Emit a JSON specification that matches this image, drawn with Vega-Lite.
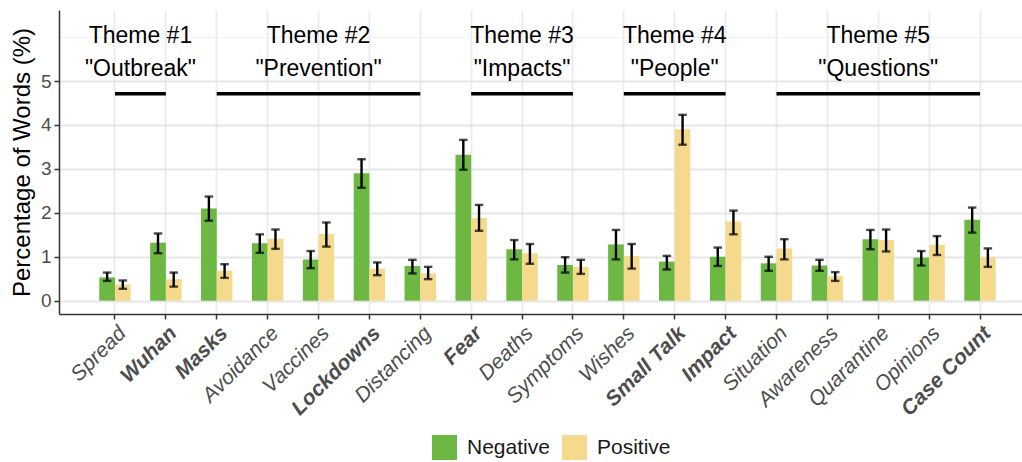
{
  "$schema": "https://vega.github.io/schema/vega-lite/v6.json",
  "width": 963,
  "height": 304,
  "autosize": {"type": "none"},
  "padding": {"left": 59, "top": 10, "right": 0, "bottom": 148},
  "config": {"view": {"stroke": null}, "font": "Liberation Sans"},
  "datasets": {
    "bars": [
      {"word": "Spread", "sentiment": "Negative", "pct": 0.53, "lo": 0.45, "hi": 0.64},
      {"word": "Spread", "sentiment": "Positive", "pct": 0.37, "lo": 0.27, "hi": 0.46},
      {"word": "Wuhan", "sentiment": "Negative", "pct": 1.32, "lo": 1.08, "hi": 1.53},
      {"word": "Wuhan", "sentiment": "Positive", "pct": 0.49, "lo": 0.32, "hi": 0.64},
      {"word": "Masks", "sentiment": "Negative", "pct": 2.1, "lo": 1.82, "hi": 2.37},
      {"word": "Masks", "sentiment": "Positive", "pct": 0.68, "lo": 0.52, "hi": 0.83},
      {"word": "Avoidance", "sentiment": "Negative", "pct": 1.31, "lo": 1.09, "hi": 1.51},
      {"word": "Avoidance", "sentiment": "Positive", "pct": 1.41, "lo": 1.18, "hi": 1.62},
      {"word": "Vaccines", "sentiment": "Negative", "pct": 0.94, "lo": 0.74, "hi": 1.13},
      {"word": "Vaccines", "sentiment": "Positive", "pct": 1.52, "lo": 1.23, "hi": 1.78},
      {"word": "Lockdowns", "sentiment": "Negative", "pct": 2.9, "lo": 2.57, "hi": 3.22},
      {"word": "Lockdowns", "sentiment": "Positive", "pct": 0.73, "lo": 0.58, "hi": 0.87},
      {"word": "Distancing", "sentiment": "Negative", "pct": 0.79, "lo": 0.62, "hi": 0.93},
      {"word": "Distancing", "sentiment": "Positive", "pct": 0.62, "lo": 0.49, "hi": 0.77},
      {"word": "Fear", "sentiment": "Negative", "pct": 3.32, "lo": 2.98, "hi": 3.66},
      {"word": "Fear", "sentiment": "Positive", "pct": 1.88, "lo": 1.59, "hi": 2.18},
      {"word": "Deaths", "sentiment": "Negative", "pct": 1.17, "lo": 0.94, "hi": 1.38},
      {"word": "Deaths", "sentiment": "Positive", "pct": 1.08, "lo": 0.84, "hi": 1.29},
      {"word": "Symptoms", "sentiment": "Negative", "pct": 0.81, "lo": 0.64, "hi": 0.99},
      {"word": "Symptoms", "sentiment": "Positive", "pct": 0.77, "lo": 0.61, "hi": 0.93},
      {"word": "Wishes", "sentiment": "Negative", "pct": 1.28, "lo": 0.94, "hi": 1.61},
      {"word": "Wishes", "sentiment": "Positive", "pct": 1.02, "lo": 0.73, "hi": 1.29},
      {"word": "Small Talk", "sentiment": "Negative", "pct": 0.89, "lo": 0.71, "hi": 1.02},
      {"word": "Small Talk", "sentiment": "Positive", "pct": 3.9, "lo": 3.55, "hi": 4.23},
      {"word": "Impact", "sentiment": "Negative", "pct": 1.0, "lo": 0.79, "hi": 1.21},
      {"word": "Impact", "sentiment": "Positive", "pct": 1.8, "lo": 1.51, "hi": 2.05},
      {"word": "Situation", "sentiment": "Negative", "pct": 0.85, "lo": 0.68, "hi": 1.0},
      {"word": "Situation", "sentiment": "Positive", "pct": 1.19, "lo": 0.94, "hi": 1.4},
      {"word": "Awareness", "sentiment": "Negative", "pct": 0.8, "lo": 0.68, "hi": 0.93},
      {"word": "Awareness", "sentiment": "Positive", "pct": 0.56, "lo": 0.45, "hi": 0.65},
      {"word": "Quarantine", "sentiment": "Negative", "pct": 1.4, "lo": 1.17, "hi": 1.61},
      {"word": "Quarantine", "sentiment": "Positive", "pct": 1.38, "lo": 1.12, "hi": 1.62},
      {"word": "Opinions", "sentiment": "Negative", "pct": 0.98, "lo": 0.8, "hi": 1.13},
      {"word": "Opinions", "sentiment": "Positive", "pct": 1.27, "lo": 1.04, "hi": 1.47},
      {"word": "Case Count", "sentiment": "Negative", "pct": 1.84, "lo": 1.55, "hi": 2.12},
      {"word": "Case Count", "sentiment": "Positive", "pct": 0.99, "lo": 0.77, "hi": 1.19}
    ],
    "themes": [
      {"theme": 1, "start": "Spread", "end": "Wuhan", "mid": "Spread", "label": ["Theme #1", "\"Outbreak\""]},
      {"theme": 2, "start": "Masks", "end": "Distancing", "mid": "Vaccines", "label": ["Theme #2", "\"Prevention\""]},
      {"theme": 3, "start": "Fear", "end": "Symptoms", "mid": "Deaths", "label": ["Theme #3", "\"Impacts\""]},
      {"theme": 4, "start": "Wishes", "end": "Impact", "mid": "Small Talk", "label": ["Theme #4", "\"People\""]},
      {"theme": 5, "start": "Situation", "end": "Case Count", "mid": "Quarantine", "label": ["Theme #5", "\"Questions\""]}
    ]
  },
  "layer": [
    {
      "data": {"name": "bars"},
      "mark": {"type": "bar"},
      "encoding": {
        "x": {
          "field": "word", "type": "nominal",
          "scale": {
            "domain": ["Spread", "Wuhan", "Masks", "Avoidance", "Vaccines", "Lockdowns", "Distancing", "Fear", "Deaths", "Symptoms", "Wishes", "Small Talk", "Impact", "Situation", "Awareness", "Quarantine", "Opinions", "Case Count"],
            "range": [0, 977], "paddingInner": 0, "paddingOuter": 0.6
          },
          "axis": {
            "title": null, "orient": "bottom",
            "labelAngle": -45, "labelFontSize": 21, "labelFontStyle": "italic",
            "labelFontWeight": {"condition": {"test": "indexof(['Wuhan','Masks','Lockdowns','Fear','Small Talk','Impact','Case Count'], datum.value) >= 0", "value": "bold"}, "value": "normal"},
            "labelColor": "#4d4d4d", "labelPadding": 3,
            "tickColor": "#333333", "tickSize": 5, "tickWidth": 1.5,
            "domainColor": "#333333", "domainWidth": 1.5,
            "grid": true, "gridColor": "#ebebeb", "gridWidth": 1.8, "bandPosition": 0.5
          }
        },
        "xOffset": {"field": "sentiment", "type": "nominal", "scale": {"paddingOuter": 0.62, "paddingInner": 0}},
        "y": {
          "field": "pct", "type": "quantitative",
          "scale": {"domain": [-0.303, 6.616], "nice": false, "zero": false},
          "axis": {
            "title": "Percentage of Words (%)", "titleFontSize": 24, "titleFontWeight": "normal", "titleColor": "#000000", "titlePadding": 6,
            "values": [0, 0.5, 1, 1.5, 2, 2.5, 3, 3.5, 4, 4.5, 5, 5.5, 6],
            "labelExpr": "(datum.value % 1 == 0 && datum.value <= 5) ? datum.label : ''",
            "labelFontSize": 19, "labelColor": "#4d4d4d", "labelPadding": 3,
            "tickColor": "#333333", "tickSize": 5, "tickWidth": 1.5,
            "tickOpacity": {"condition": {"test": "datum.value % 1 == 0 && datum.value <= 5", "value": 1}, "value": 0},
            "domainColor": "#333333", "domainWidth": 1.5,
            "grid": true,
            "gridColor": {"condition": {"test": "datum.value % 1 == 0 && datum.value <= 5", "value": "#e6e6e6"}, "value": "#f1f1f1"},
            "gridWidth": {"condition": {"test": "datum.value % 1 == 0 && datum.value <= 5", "value": 1.8}, "value": 1.2}
          }
        },
        "y2": {"datum": 0},
        "color": {
          "field": "sentiment", "type": "nominal",
          "scale": {"domain": ["Negative", "Positive"], "range": ["#6cb843", "#f5da8e"]},
          "legend": {
            "title": null, "orient": "none", "legendX": 373, "legendY": 425, "direction": "horizontal",
            "symbolType": "square", "symbolSize": 625, "symbolStrokeWidth": 0, "symbolOpacity": 1,
            "labelFontSize": 21, "labelColor": "#1a1a1a", "labelOffset": 10, "columnPadding": 12, "padding": 0
          }
        }
      }
    },
    {
      "data": {"name": "bars"},
      "mark": {"type": "rule", "color": "#000000", "strokeWidth": 2.4},
      "encoding": {
        "x": {"field": "word", "type": "nominal"},
        "xOffset": {"field": "sentiment", "type": "nominal"},
        "y": {"field": "lo", "type": "quantitative"},
        "y2": {"field": "hi"}
      }
    },
    {
      "data": {"name": "bars"},
      "mark": {"type": "tick", "color": "#000000", "thickness": 2.4, "size": 8.5, "orient": "horizontal"},
      "encoding": {
        "x": {"field": "word", "type": "nominal"},
        "xOffset": {"field": "sentiment", "type": "nominal"},
        "y": {"field": "lo", "type": "quantitative"}
      }
    },
    {
      "data": {"name": "bars"},
      "mark": {"type": "tick", "color": "#000000", "thickness": 2.4, "size": 8.5, "orient": "horizontal"},
      "encoding": {
        "x": {"field": "word", "type": "nominal"},
        "xOffset": {"field": "sentiment", "type": "nominal"},
        "y": {"field": "hi", "type": "quantitative"}
      }
    },
    {
      "mark": {"type": "rule", "color": "#333333", "strokeWidth": 1.5},
      "encoding": {"y": {"datum": 6.616}}
    },
    {
      "data": {"name": "themes"},
      "mark": {"type": "rule", "color": "#000000", "strokeWidth": 3.5},
      "encoding": {
        "x": {"field": "start", "type": "nominal"},
        "x2": {"field": "end"},
        "y": {"datum": 4.71}
      }
    },
    {
      "data": {"name": "themes"},
      "transform": [{"filter": "datum.theme == 1"}],
      "mark": {"type": "text", "fontSize": 23, "color": "#000000", "baseline": "alphabetic", "align": "center", "lineHeight": 33.5},
      "encoding": {
        "x": {"field": "mid", "type": "nominal", "bandPosition": 1},
        "y": {"datum": 5.87},
        "text": {"field": "label"}
      }
    },
    {
      "data": {"name": "themes"},
      "transform": [{"filter": "datum.theme != 1"}],
      "mark": {"type": "text", "fontSize": 23, "color": "#000000", "baseline": "alphabetic", "align": "center", "lineHeight": 33.5},
      "encoding": {
        "x": {"field": "mid", "type": "nominal", "bandPosition": 0.5},
        "y": {"datum": 5.87},
        "text": {"field": "label"}
      }
    }
  ]
}
